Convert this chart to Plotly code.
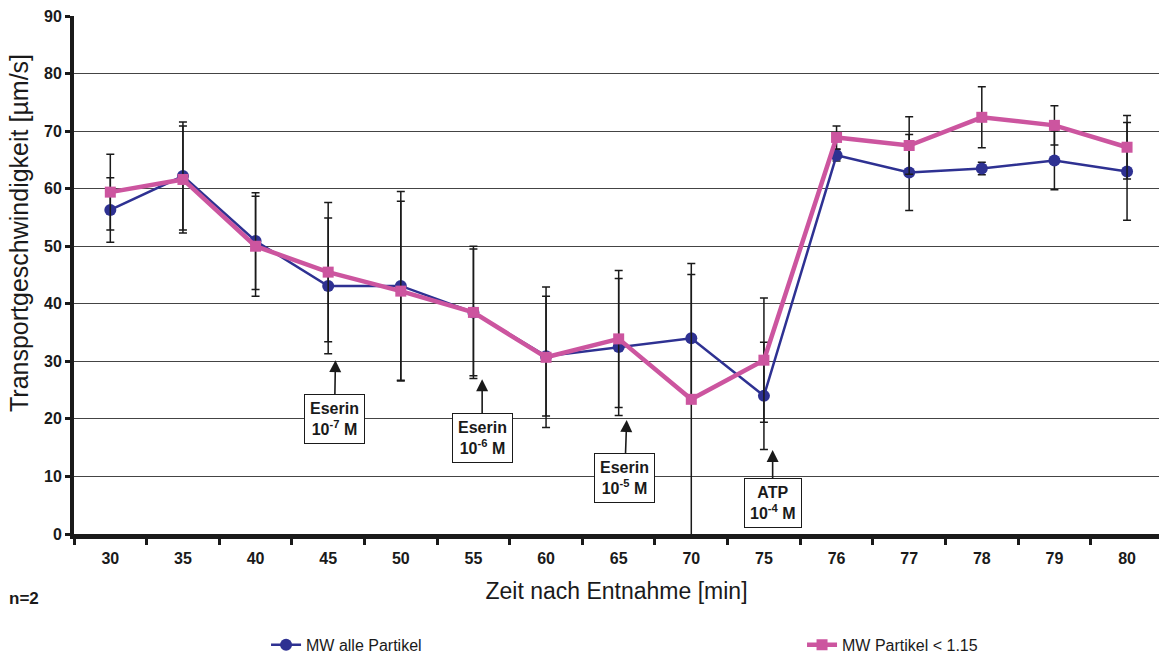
import plotly.graph_objects as go

# Zeitpunkte nach Entnahme (min) - kategoriale Achse
zeiten = ["30", "35", "40", "45", "50", "55", "60", "65", "70", "75",
          "76", "77", "78", "79", "80"]

# Mittelwerte und Standardabweichungen, alle Partikel
mw_alle = [56.3, 62.2, 50.9, 43.1, 43.1, 38.5, 30.9, 32.5, 34.0, 24.0,
           65.8, 62.8, 63.5, 64.9, 63.0]
sd_alle = [5.6, 9.4, 8.4, 11.8, 16.4, 11.5, 10.4, 11.9, 11.1, 9.3,
           1.0, 6.6, 1.1, 5.1, 8.5]

# Mittelwerte und Standardabweichungen, Partikel < 1.15
mw_klein = [59.4, 61.6, 50.0, 45.5, 42.2, 38.5, 30.7, 33.9, 23.4, 30.2,
            68.9, 67.5, 72.4, 71.0, 67.2]
sd_klein = [6.6, 9.3, 8.7, 12.1, 15.6, 11.0, 12.2, 11.9, 23.6, 10.8,
            2.0, 5.0, 5.3, 3.4, 5.5]

# Zugaben: (Position auf der Achse, Pfeilspitze y, Beschriftung, Versatz)
zugabe_x = [3.10, 5.12, 7.11, 9.12]
zugabe_y = [30.2, 26.9, 19.8, 14.6]
zugabe_text = ["Eserin<br>10<sup>-7</sup> M", "Eserin<br>10<sup>-6</sup> M",
               "Eserin<br>10<sup>-5</sup> M", "ATP<br>10<sup>-4</sup> M"]
zugabe_ax = [-1, 0, -2, 0]
zugabe_ay = [59, 59, 58, 53]

BLAU = "#2e3192"
PINK = "#cc559f"
FONT = "Arial, Liberation Sans, sans-serif"

fig = go.Figure()

fig.add_trace(go.Scatter(
    x=zeiten, y=mw_alle, mode="lines+markers", name="MW alle Partikel",
    line=dict(color=BLAU, width=2.5),
    marker=dict(symbol="circle", size=12, color=BLAU),
    error_y=dict(type="data", array=sd_alle, visible=True,
                 color="#1a1a1a", thickness=1.5, width=4),
    legend="legend",
))

fig.add_trace(go.Scatter(
    x=zeiten, y=mw_klein, mode="lines+markers", name="MW Partikel < 1.15",
    line=dict(color=PINK, width=4.5),
    marker=dict(symbol="square", size=11, color=PINK),
    error_y=dict(type="data", array=sd_klein, visible=True,
                 color="#1a1a1a", thickness=1.5, width=4),
    legend="legend2",
))

for xi, yi, txt, axv, ayv in zip(zugabe_x, zugabe_y, zugabe_text, zugabe_ax, zugabe_ay):
    fig.add_annotation(
        x=xi, y=yi, xref="x", yref="y", text="<b>" + txt + "</b>",
        showarrow=True, arrowhead=2, arrowsize=1.5, arrowwidth=1.6,
        arrowcolor="#1a1a1a", ax=axv, ay=ayv,
        font=dict(family=FONT, size=16, color="#1a1a1a"),
        bgcolor="white", bordercolor="#1a1a1a", borderwidth=1, borderpad=5,
        align="center",
    )

# Stichprobengröße
fig.add_annotation(
    x=-0.062, y=-0.1236, xref="paper", yref="paper", text="<b>n=2</b>",
    showarrow=False, xanchor="left", yanchor="middle",
    font=dict(family=FONT, size=17, color="#1a1a1a"),
)

# Titel der y-Achse
fig.add_annotation(
    x=-0.0507, y=0.581, xref="paper", yref="paper",
    text="Transportgeschwindigkeit [µm/s]", textangle=-90,
    showarrow=False, xanchor="center", yanchor="middle",
    font=dict(family=FONT, size=25, color="#1a1a1a"),
)

legend_style = dict(
    orientation="h", y=-0.214, xanchor="left", yanchor="middle",
    font=dict(family=FONT, size=16, color="#1a1a1a"),
    bgcolor="rgba(0,0,0,0)",
)

fig.update_layout(
    width=1159, height=656,
    margin=dict(l=74, r=0, t=16, b=122, autoexpand=False),
    paper_bgcolor="white", plot_bgcolor="white",
    font=dict(family=FONT, color="#1a1a1a"),
    showlegend=True,
    legend=dict(x=0.177, **legend_style),
    legend2=dict(x=0.671, **legend_style),
    xaxis=dict(
        type="category", range=[-0.5, 14.44],
        showline=True, linecolor="#1a1a1a", linewidth=5,
        ticks="outside", tickson="boundaries", ticklen=6, tickwidth=3,
        tickcolor="#1a1a1a", showgrid=False, ticklabelstandoff=6,
        tickfont=dict(family=FONT, size=16, color="#1a1a1a", weight="bold"),
        title=dict(text="Zeit nach Entnahme [min]",
                   font=dict(family=FONT, size=23, color="#1a1a1a"), standoff=18),
    ),
    yaxis=dict(
        range=[0, 90], dtick=10, tick0=0,
        showline=True, linecolor="#1a1a1a", linewidth=4,
        ticks="outside", ticklen=5, tickwidth=3, tickcolor="#1a1a1a",
        showgrid=True, gridcolor="#444444", gridwidth=1, zeroline=False,
        tickfont=dict(family=FONT, size=16, color="#1a1a1a", weight="bold"),
    ),
)

fig.write_html("out.html")
